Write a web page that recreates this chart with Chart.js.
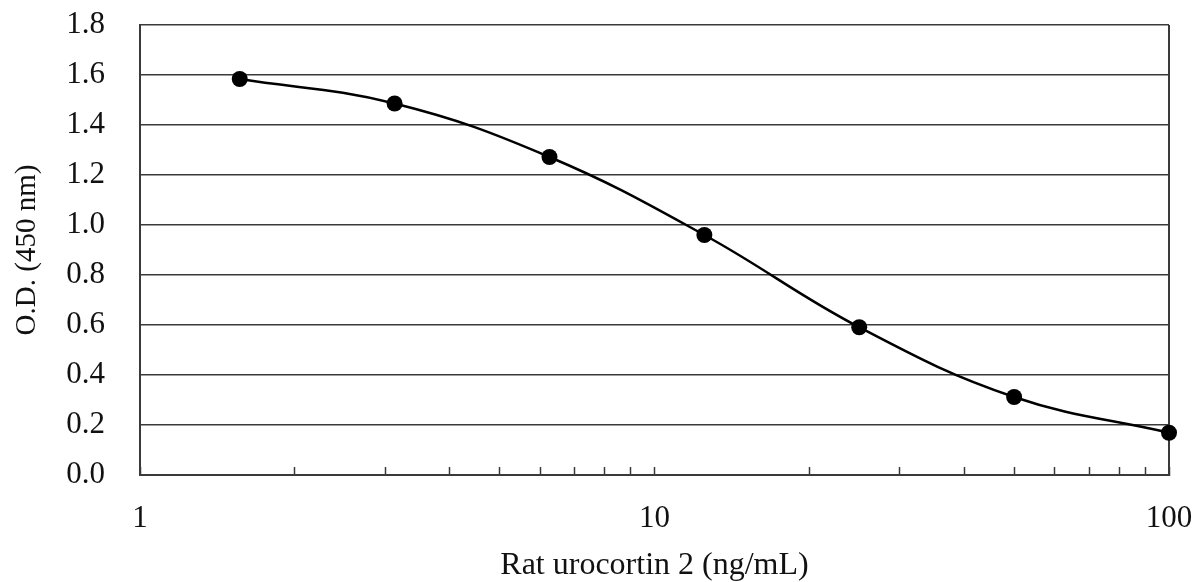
<!DOCTYPE html>
<html>
<head>
<meta charset="utf-8">
<script src="https://cdn.jsdelivr.net/npm/chart.js@4/dist/chart.umd.min.js"></script>
<style>
  html, body { margin: 0; padding: 0; background: #fff; }
  #wrap { width: 1198px; height: 582px; }
</style>
</head>
<body>
<div id="wrap"><canvas id="curve"></canvas></div>
<script>
// standard curve, rat urocortin 2
var concentrations = [1.5625, 3.125, 6.25, 12.5, 25, 50, 100];
var odValues = [1.584, 1.486, 1.272, 0.960, 0.591, 0.312, 0.169];
var xTickValues = [1, 2, 3, 4, 5, 6, 7, 8, 9, 10, 20, 30, 40, 50, 60, 70, 80, 90, 100];
var xLabelValues = [1, 10, 100];

var FONT = 'Liberation Serif, Times New Roman, serif';
var INK = '#111';
var LINE = '#3a3a3a';

// draws the right-hand frame line (top is the 1.8 grid line)
var frame = {
  id: 'frame',
  beforeDatasetsDraw: function (chart) {
    var a = chart.chartArea;
    var ctx = chart.ctx;
    ctx.save();
    ctx.strokeStyle = LINE;
    ctx.lineWidth = 2;
    ctx.beginPath();
    ctx.moveTo(a.right, a.top);
    ctx.lineTo(a.right, a.bottom);
    ctx.stroke();
    ctx.restore();
  }
};

var points = concentrations.map(function (c, i) {
  return { x: c, y: odValues[i] };
});

var ctx = document.getElementById('curve').getContext('2d');
var chart = new Chart(ctx, {
  type: 'line',
  data: {
    datasets: [{
      data: points,
      borderColor: '#000',
      borderWidth: 2.5,
      backgroundColor: '#000',
      pointRadius: 8,
      pointHoverRadius: 8,
      pointBackgroundColor: '#000',
      pointBorderWidth: 0,
      tension: 0.4,
      clip: false
    }]
  },
  options: {
    responsive: true,
    maintainAspectRatio: false,
    animation: false,
    layout: { padding: { left: 0, right: 29, top: 25, bottom: 0 } },
    plugins: {
      legend: { display: false },
      tooltip: { enabled: false }
    },
    scales: {
      x: {
        type: 'logarithmic',
        min: 1,
        max: 100,
        afterBuildTicks: function (scale) {
          scale.ticks = xTickValues.map(function (v) { return { value: v }; });
        },
        afterFit: function (scale) {
          scale.height = 107;
          scale.paddingLeft = 0;
          scale.paddingRight = 0;
        },
        ticks: {
          autoSkip: false,
          maxRotation: 0,
          padding: 33,
          color: INK,
          font: { family: FONT, size: 31 },
          callback: function (value) {
            return xLabelValues.indexOf(value) >= 0 ? String(value) : '';
          }
        },
        grid: {
          drawOnChartArea: false,
          drawTicks: true,
          tickLength: -8,
          tickWidth: 1.5,
          tickColor: LINE
        },
        border: { display: true, color: LINE, width: 2 },
        title: {
          display: true,
          text: 'Rat urocortin 2 (ng/mL)',
          color: INK,
          font: { family: FONT, size: 32 },
          padding: { top: 0, bottom: -3 }
        }
      },
      y: {
        min: 0,
        max: 1.8,
        afterFit: function (scale) {
          scale.width = 140;
          scale.paddingTop = 0;
          scale.paddingBottom = 0;
        },
        ticks: {
          stepSize: 0.2,
          padding: 35,
          color: INK,
          font: { family: FONT, size: 31 },
          callback: function (value) { return Number(value).toFixed(1); }
        },
        grid: {
          color: LINE,
          lineWidth: 1.5,
          drawTicks: false
        },
        border: { display: true, color: LINE, width: 2 },
        title: {
          display: true,
          text: 'O.D. (450 nm)',
          color: INK,
          font: { family: FONT, size: 29 },
          padding: { top: 10, bottom: 0 }
        }
      }
    }
  },
  plugins: [frame]
});
</script>
</body>
</html>
